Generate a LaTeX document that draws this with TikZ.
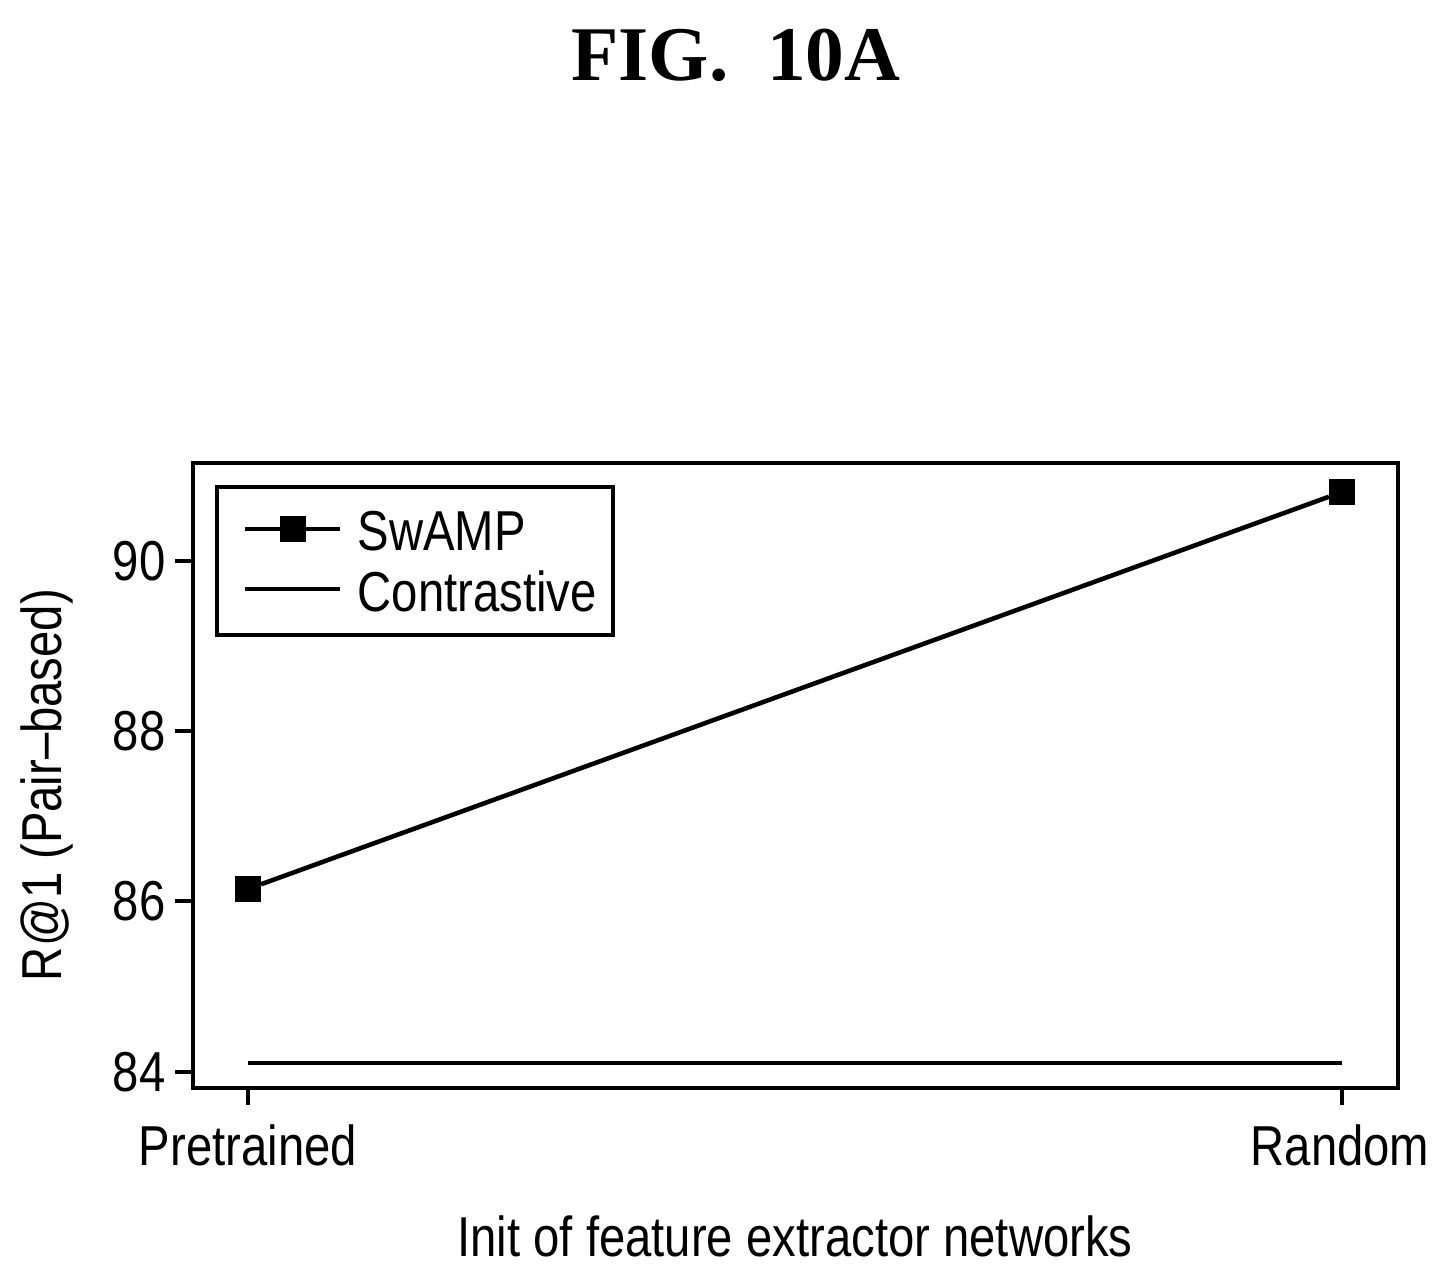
\documentclass[tikz,border=0pt]{standalone}
\usepackage{fontspec}
\setmainfont{Liberation Sans}
\newfontfamily\titlefont{Liberation Serif}
\usetikzlibrary{positioning}
\newcommand{\narrow}[1]{\scalebox{0.84}[1]{#1}}
\begin{document}
\begin{tikzpicture}
      [x = 0.01cm, y = -0.01cm,
      lbl/.style = {font = \fontsize{16}{18}\selectfont, inner sep = 0pt},
      curve/.style = {line width = 1.3pt},
      mark/.style = {}, 
      sq/.style = {
         draw,
         fill = black,
         rectangle,
         inner sep = 0pt,
         minimum size = 7pt
      }]
      \useasboundingbox (0, 0) rectangle (1448, 1272);
      \node[inner sep = 0pt] (title) at (736, 55)
         {\titlefont\bfseries\fontsize{22}{24}\selectfont FIG.\ \ 10A};

      % frame and ticks
      \draw[line width = 1.2pt] (193, 463) rectangle (1398, 1088);
      \foreach \v/\py in {90/561, 88/731, 86/901, 84/1072} {
         \draw[line width = 1.2pt] (175, \py) -- (193, \py);
         \node[lbl, anchor = east] (y\v) at (166, \py) {\narrow{\v}};
      }
      \draw[line width = 1.2pt] (248, 1088) -- (248, 1105);
      \draw[line width = 1.2pt] (1342, 1088) -- (1342, 1105);
      \node[lbl, anchor = north] (pre) at (248, 1124) {\narrow{Pretrained}};
      \node[lbl, anchor = north] (ran) at (1340, 1124) {\narrow{Random}};
      \node[lbl] (xlab) at (795, 1236) {\narrow{Init of feature extractor networks}};
      \node[lbl, rotate = 90] (ylab) at (47, 785) {\narrow{R@1 (Pair--based)}};

      % data
      \node[sq] (s1) at (248, 889) {};
      \node[sq] (s2) at (1342, 492) {};
      \draw[curve] (s1) -- (s2);
      \coordinate (c1) at (248, 1063);
      \coordinate (c2) at (1342, 1063);
      \draw[curve] (c1) -- (c2);

      % legend
      \draw[line width = 1.2pt] (217, 487) rectangle (613, 635);
      \coordinate (l1) at (245, 529);
      \coordinate (l2) at (340, 529);
      \draw[curve] (l1) -- (l2);
      \node[sq] (lm) at (293, 529) {};
      \node[lbl, anchor = west] (lswamp) at (357, 531) {\narrow{SwAMP}};
      \coordinate (l3) at (245, 589);
      \coordinate (l4) at (340, 589);
      \draw[curve] (l3) -- (l4);
      \node[lbl, anchor = west] (lcon) at (357, 591) {\narrow{Contrastive}};
   \end{tikzpicture}
\end{document}
